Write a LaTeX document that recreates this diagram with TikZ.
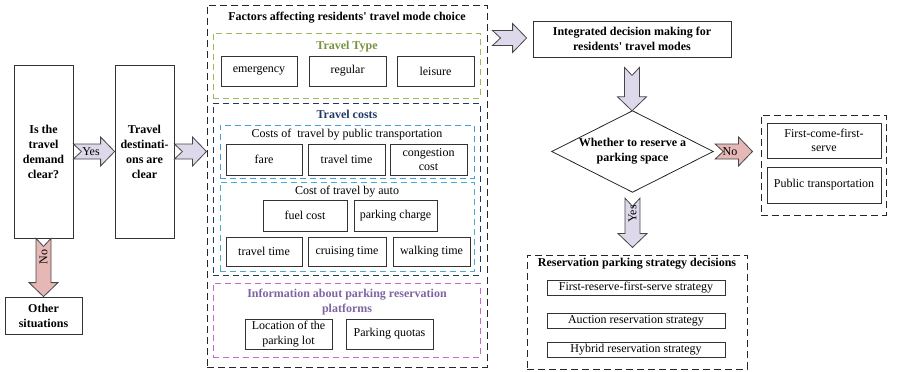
\documentclass[tikz,border=0pt]{standalone}
\usepackage{fontspec}
\setmainfont{Liberation Serif}
\usetikzlibrary{calc}
\definecolor{lav}{RGB}{221,216,234}
\definecolor{pinkf}{RGB}{230,184,181}
\definecolor{arrline}{RGB}{70,70,70}
\definecolor{olivel}{RGB}{155,187,89}
\definecolor{olivet}{RGB}{118,146,60}
\definecolor{navyd}{RGB}{31,56,100}
\definecolor{skyd}{RGB}{70,155,215}
\definecolor{teald}{RGB}{75,172,198}
\definecolor{magd}{RGB}{204,102,204}
\definecolor{purt}{RGB}{128,100,162}
\def\ArShaft{7.5pt}\def\ArHead{14.5pt}\def\ArLen{14pt}\def\ArNotch{8pt}
\newcommand\hfat[3]{\path[#1] let \p1=(#2),\p2=(#3) in (\x1,\y1+\ArShaft) -- (\x2-\ArLen,\y1+\ArShaft) -- (\x2-\ArLen,\y1+\ArHead) -- (\x2,\y1) -- (\x2-\ArLen,\y1-\ArHead) -- (\x2-\ArLen,\y1-\ArShaft) -- (\x1,\y1-\ArShaft) -- (\x1+\ArNotch,\y1) -- cycle;}
\newcommand\vfat[3]{\path[#1] let \p1=(#2),\p2=(#3) in (\x1-\ArShaft,\y1) -- (\x1-\ArShaft,\y2+\ArLen) -- (\x1-\ArHead,\y2+\ArLen) -- (\x1,\y2) -- (\x1+\ArHead,\y2+\ArLen) -- (\x1+\ArShaft,\y2+\ArLen) -- (\x1+\ArShaft,\y1) -- (\x1,\y1-\ArNotch) -- cycle;}
\tikzset{
  sz/.style 2 args={minimum width=#1pt,minimum height=#2pt},
  box/.style={draw=black!80, line width=0.8pt, fill=white, align=center, inner sep=1pt, font=\fontsize{12}{14.5}\selectfont},
  bbox/.style={box, font=\fontsize{12}{15}\selectfont\bfseries},
  grp/.style={dash pattern=on 6pt off 4pt, line width=1pt, inner sep=0pt},
  ogrp/.style={grp, dash pattern=on 7pt off 4pt, draw=black!85},
  ttl/.style={font=\fontsize{12}{15}\selectfont\bfseries, align=center, inner sep=0pt},
  sub/.style={font=\fontsize{12}{15}\selectfont, align=center, inner sep=0pt},
  lavarrow/.style={fill=lav, draw=arrline, line width=0.8pt, line join=miter},
  pinkarrow/.style={fill=pinkf, draw=arrline, line width=0.8pt, line join=miter},
  alab/.style={font=\fontsize{12}{14}\selectfont, inner sep=0pt},
}
\begin{document}
\begin{tikzpicture}[x=1pt,y=-1pt]
\useasboundingbox (0,0) rectangle (898,372);
% left column
\node[bbox, sz={59}{173}] (q1) at (43.5,151.5) {Is the\\travel\\demand\\clear?};
\node[bbox, sz={59}{173}] (q2) at (144.5,151.5) {Travel\\destinati-\\ons are\\clear};
\node[bbox, sz={77}{37}] (other) at (43.5,315.5) {Other\\situations};
% factors group
\node[ogrp, sz={280}{362}] (outer) at (347,186) {};
\node[ttl] (outert) at (347,18) {Factors affecting residents\textquotesingle{} travel mode choice};
% travel type
\node[grp, draw=olivel, sz={267}{65}] (ttype) at (346.5,65.5) {};
\node[ttl, text=olivet] (ttypet) at (347,47) {Travel Type};
\node[box, sz={76}{30}] (emer) at (259,71) {emergency};
\node[box, sz={77}{30}] (regu) at (347.5,71) {regular};
\node[box, sz={77}{30}] (leis) at (435.5,71) {leisure};
% travel costs
\node[grp, draw=navyd, sz={267}{172}] (tcost) at (346.5,189) {};
\node[ttl, text=navyd] (tcostt) at (347,114) {Travel costs};
\node[grp, draw=skyd, sz={254}{53}] (pubc) at (347,151.5) {};
\node[sub] (pubct) at (347,135) {Costs of~ travel by public transportation};
\node[box, sz={76}{31}] (fare) at (264,159.5) {fare};
\node[box, sz={77}{31}] (ttime) at (346.5,159.5) {travel time};
\node[box, sz={77}{31}] (cong) at (428.5,159.5) {congestion\\cost};
\node[grp, draw=teald, sz={254}{89}] (autoc) at (347,226.5) {};
\node[sub] (autoct) at (347,192) {Cost of travel by auto};
\node[box, sz={84}{31}] (fuel) at (305,215.5) {fuel cost};
\node[box, sz={83}{31}] (pchg) at (395.5,215.5) {parking charge};
\node[box, sz={76}{29}] (ttime2) at (264,251.5) {travel time};
\node[box, sz={78}{29}] (cruise) at (347,251.5) {cruising time};
\node[box, sz={77}{29}] (walk) at (431.5,251.5) {walking time};
% parking info
\node[grp, draw=magd, sz={267}{74}] (pinfo) at (346.5,320) {};
\node[ttl, text=purt] (pinfot) at (347,302.5) {Information about parking reservation\\platforms};
\node[box, sz={87}{30}] (loc) at (288.5,334) {Location of the\\parking lot};
\node[box, sz={87}{30}] (quota) at (389.5,334) {Parking quotas};
% right part
\node[bbox, sz={198}{36}] (integ) at (632,39) {Integrated decision making for\\residents\textquotesingle{} travel modes};
\node[sz={161}{81}, inner sep=0pt] (dec) at (632.5,151.5) {};
\draw[draw=black!85, line width=0.8pt] (dec.north) -- (dec.east) -- (dec.south) -- (dec.west) -- cycle;
\node[ttl] (dect) at (dec.center) {Whether to reserve a\\parking space};
\node[ogrp, sz={125}{100}] (rbox) at (823.5,165) {};
\node[box, sz={114}{35}] (fcfs) at (824,140.5) {First-come-first-\\serve};
\node[box, sz={114}{36}] (pubt) at (824,185) {Public transportation};
\node[ogrp, sz={220}{114}] (resv) at (637,312) {};
\node[ttl] (resvt) at (637,264) {Reservation parking strategy decisions};
\node[box, sz={178}{15}] (s1) at (636,288) {First-reserve-first-serve strategy};
\node[box, sz={178}{15}] (s2) at (636,320.5) {Auction reservation strategy};
\node[box, sz={178}{15}] (s3) at (636,350) {Hybrid reservation strategy};
% arrows
\coordinate (a2e) at (outer.west |- q2.east);
\coordinate (a3s) at ($(outer.east |- integ.west)+(5,-1)$);
\coordinate (a3e) at ($(integ.west)+(-6,-1)$);
\coordinate (a4s) at ($(integ.south)+(0,10)$);
\coordinate (a5s) at ($(dec.east)+(2,0)$);
\coordinate (a5e) at ($(rbox.west |- dec.east)+(-8,0)$);
\coordinate (a6s) at ($(dec.south)+(0,6)$);
\coordinate (a6e) at ($(resv.north)+(0,-7)$);
\hfat{lavarrow}{q1.east}{q2.west}
\hfat{lavarrow}{q2.east}{a2e}
\hfat{lavarrow}{a3s}{a3e}
\vfat{lavarrow}{a4s}{dec.north}
\hfat{pinkarrow}{a5s}{a5e}
\vfat{lavarrow}{a6s}{a6e}
\vfat{pinkarrow}{q1.south}{other.north}
\node[alab] (lyes1) at (91,152) {Yes};
\node[alab] (lno1) at (730,152) {No};
\node[alab, rotate=90] (lno2) at (43.5,257) {No};
\node[alab, rotate=90] (lyes2) at (632.5,214) {Yes};
\end{tikzpicture}
\end{document}
